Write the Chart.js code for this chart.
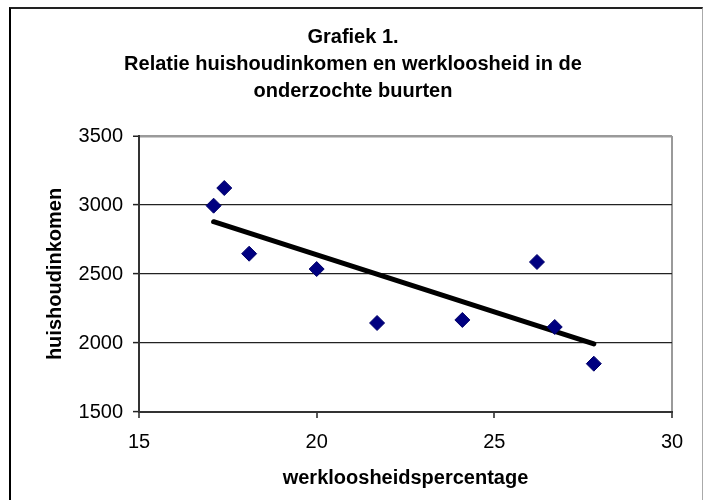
<!DOCTYPE html>
<html>
<head>
<meta charset="utf-8">
<script src="https://cdn.jsdelivr.net/npm/chart.js@4"></script>
<style>
  html, body { margin: 0; padding: 0; background: #fff; }
  #wrap { position: absolute; left: 0; top: 0; width: 706px; height: 500px; }
  #frame {
    position: absolute; left: 9px; top: 7px; width: 694px; height: 493px;
    border-top: 2px solid #222; border-left: 2px solid #000; border-right: 1px solid #aaa;
    pointer-events: none; box-sizing: border-box;
  }
</style>
</head>
<body>
<div id="wrap">
  <canvas id="chart" width="706" height="500"></canvas>
  <div id="frame"></div>
</div>
<script>
// Grafiek 1 — huishoudinkomen vs werkloosheidspercentage, with trendline

const titleLines = [
  "Grafiek 1.",
  "Relatie huishoudinkomen en werkloosheid in de",
  "onderzochte buurten",
];
const xTitle = "werkloosheidspercentage";
const yTitle = "huishoudinkomen";

// buurten: werkloosheid (%) and huishoudinkomen
const werkloosheid = [17.1, 17.4, 18.1, 20.0, 21.7, 24.1, 26.2, 26.7, 27.8];
const inkomen      = [2995, 3123, 2647, 2536, 2145, 2167, 2587, 2116, 1850];

// trendline end points
const trendX = [17.1, 27.8];
const trendY = [2879, 1993];

const xMin = 15, xMax = 30, xStep = 5;
const yMin = 1500, yMax = 3500, yStep = 500;

const FONT = '"Liberation Sans", Arial, sans-serif';
Chart.defaults.font.family = FONT;
Chart.defaults.color = "#000";

const points = werkloosheid.map((x, i) => ({ x, y: inkomen[i] }));
const trend = trendX.map((x, i) => ({ x, y: trendY[i] }));

new Chart(document.getElementById("chart"), {
  type: "scatter",
  data: {
    datasets: [
      { label: "buurten", data: points, pointStyle: "rectRot", pointRadius: 7.5,
        backgroundColor: "#000080", borderColor: "#00006a", borderWidth: 1 },
      { type: "line", label: "trend", data: trend, borderColor: "#000", borderWidth: 5,
        pointRadius: 0, fill: false, borderCapStyle: "round" },
    ],
  },
  options: {
    responsive: false, animation: false,
    layout: { padding: 0 },
    plugins: {
      legend: { display: false },
      tooltip: { enabled: false },
      title: { display: true, text: titleLines, color: "#000",
        font: { size: 20, weight: "bold", lineHeight: 1.35 },
        padding: { top: 24, bottom: 31 } },
    },
    scales: {
      x: {
        type: "linear", min: xMin, max: xMax,
        ticks: { stepSize: xStep, font: { size: 20 }, color: "#000", padding: 12,
          callback: (v) => String(v) },
        grid: {
          color: (c) => (c.tick && c.tick.value === xMax ? "#9a9a9a" : "rgba(0,0,0,0)"),
          lineWidth: 2, tickColor: "#222", tickWidth: 1.5, tickLength: 6,
        },
        border: { color: "#333", width: 2 },
        title: { display: true, text: xTitle, color: "#000",
          font: { size: 20, weight: "bold", lineHeight: 1.2 }, padding: { top: 0, bottom: 10 } },
        afterFit: (s) => { s.height = 88; },
      },
      y: {
        min: yMin, max: yMax,
        ticks: { stepSize: yStep, font: { size: 20 }, color: "#000", padding: 10,
          callback: (v) => String(v) },
        grid: {
          color: (c) => (c.tick && c.tick.value === yMax ? "#9a9a9a" : "#222"),
          lineWidth: (c) => (c.tick && c.tick.value === yMax ? 2.5 : 1.2),
          tickColor: "#222", tickWidth: 1.5, tickLength: 6,
        },
        border: { color: "#333", width: 2 },
        title: { display: true, text: yTitle, color: "#000",
          font: { size: 20, weight: "bold", lineHeight: 1.2 }, padding: { top: 43, bottom: 0 } },
        afterFit: (s) => { s.width = 139; },
      },
      // empty right-hand spacer so the title stays centred on the full width
      spacer: {
        position: "right", min: yMin, max: yMax,
        ticks: { display: false },
        grid: { drawOnChartArea: false, drawTicks: false },
        border: { display: false },
        afterFit: (s) => { s.width = 34; },
      },
    },
  },
});
</script>
</body>
</html>
